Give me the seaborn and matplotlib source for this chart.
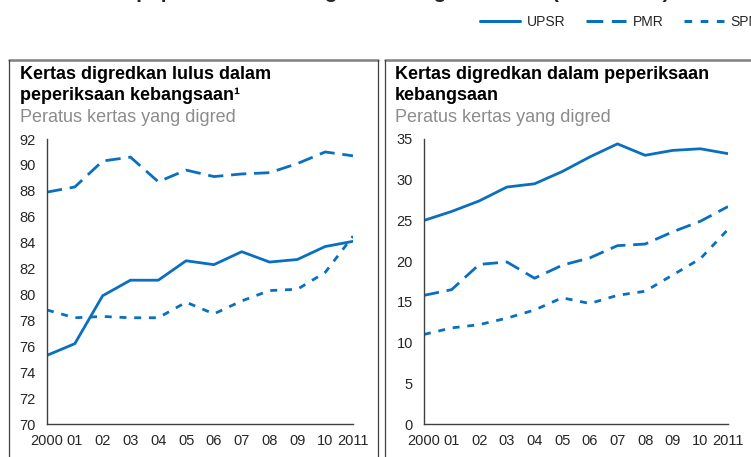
import pandas as pd
import matplotlib
matplotlib.use("Agg")
import matplotlib.pyplot as plt
from matplotlib.lines import Line2D
import seaborn as sns

# data
years = list(range(2000, 2012))
year_labels = ["2000", "01", "02", "03", "04", "05", "06", "07", "08", "09", "10", "2011"]
series_names = ["UPSR", "PMR", "SPM"]

lulus_upsr = [75.3, 76.2, 79.9, 81.1, 81.1, 82.6, 82.3, 83.3, 82.5, 82.7, 83.7, 84.1]
lulus_pmr = [87.9, 88.3, 90.3, 90.6, 88.7, 89.6, 89.1, 89.3, 89.4, 90.1, 91.0, 90.7]
lulus_spm = [78.8, 78.2, 78.3, 78.2, 78.2, 79.4, 78.5, 79.5, 80.3, 80.4, 81.7, 84.5]

gred_upsr = [25.0, 26.1, 27.4, 29.1, 29.5, 31.0, 32.8, 34.4, 33.0, 33.6, 33.8, 33.2]
gred_pmr = [15.8, 16.5, 19.6, 19.9, 17.9, 19.5, 20.4, 21.9, 22.1, 23.6, 24.9, 26.7]
gred_spm = [11.0, 11.8, 12.2, 13.0, 14.0, 15.5, 14.8, 15.8, 16.3, 18.3, 20.3, 23.9]

left_title = ["Kertas digredkan lulus dalam", "peperiksaan kebangsaan¹"]
right_title = ["Kertas digredkan dalam peperiksaan", "kebangsaan"]
subtitle = "Peratus kertas yang digred"
main_title = "Gred kertas peperiksaan kebangsaan mengikut tahun (2000–2011)"


def long_df(upsr, pmr, spm):
    frames = []
    for name, vals in zip(series_names, [upsr, pmr, spm]):
        frames.append(pd.DataFrame({"tahun": years, "nilai": vals, "siri": name}))
    return pd.concat(frames, ignore_index=True)


df_lulus = long_df(lulus_upsr, lulus_pmr, lulus_spm)
df_gred = long_df(gred_upsr, gred_pmr, gred_spm)

sns.set_style("white")
plt.rcParams["font.family"] = ["Liberation Sans", "DejaVu Sans"]

blue = "#0A6FBF"
pmr_dash = (5.5, 2.8)
spm_dash = (2.5, 2.8)
dash_map = {"UPSR": "", "PMR": pmr_dash, "SPM": spm_dash}
pal = {n: blue for n in series_names}

W, H = 751, 457
fig = plt.figure(figsize=(W / 100, H / 100), dpi=100)

ax1 = fig.add_axes([47 / W, 1 - 424 / H, (353 - 47) / W, (424 - 139) / H])
ax2 = fig.add_axes([424 / W, 1 - 424 / H, (728 - 424) / W, (424 - 139) / H])

sns.lineplot(data=df_lulus, x="tahun", y="nilai", hue="siri", style="siri",
             palette=pal, dashes=dash_map, linewidth=2, legend=False, ax=ax1)
sns.lineplot(data=df_gred, x="tahun", y="nilai", hue="siri", style="siri",
             palette=pal, dashes=dash_map, linewidth=2, legend=False, ax=ax2)

for ax, lim, step in [(ax1, (70, 92), 2), (ax2, (0, 35), 5)]:
    ax.set_xlim(2000, 2011)
    ax.set_ylim(*lim)
    ax.set_yticks(range(lim[0], lim[1] + 1, step))
    ax.set_xticks(years)
    ax.set_xticklabels(year_labels)
    ax.set_xlabel("")
    ax.set_ylabel("")
    for s in ["top", "right"]:
        ax.spines[s].set_visible(False)
    for s in ["left", "bottom"]:
        ax.spines[s].set_color("#404040")
        ax.spines[s].set_linewidth(1)
    ax.tick_params(axis="x", direction="in", length=4, width=1, color="#404040",
                   pad=7, labelsize=10.5)
    ax.tick_params(axis="y", direction="out", length=3, width=1, color="#404040",
                   pad=5, labelsize=10.5)
    ax.patch.set_alpha(0)

# panel boxes
for x0, x1 in [(9, 378), (385, 760)]:
    fig.add_artist(Line2D([x0 / W, x1 / W], [1 - 60 / H, 1 - 60 / H],
                          transform=fig.transFigure, color="#808080", lw=1.8))
    for xx in [x0, x1]:
        fig.add_artist(Line2D([xx / W, xx / W], [1 - 60 / H, -0.05],
                              transform=fig.transFigure, color="#404040", lw=0.9))

# panel titles
for x, lines in [(20, left_title), (395, right_title)]:
    fig.text(x / W, 1 - 79 / H, lines[0], fontsize=13, fontweight="bold",
             va="baseline", ha="left", color="black")
    fig.text(x / W, 1 - 100 / H, lines[1], fontsize=13, fontweight="bold",
             va="baseline", ha="left", color="black")
    fig.text(x / W, 1 - 122 / H, subtitle, fontsize=13, color="#8C8C8C",
             va="baseline", ha="left")

# headline, cut off at the top edge as in the reference
fig.text(14 / W, 1 + 1.5 / H, main_title, fontsize=15, fontweight="bold",
         va="baseline", ha="left")

# legend
handles = [Line2D([], [], color=blue, lw=2.2, linestyle=ls)
           for ls in ["-", (0, pmr_dash), (0, spm_dash)]]
fig.legend(handles, series_names, loc="center left", ncol=3,
           bbox_to_anchor=(480 / W, 1 - 22 / H), frameon=False, fontsize=10,
           handlelength=2.85, handletextpad=0.5, columnspacing=1.5,
           borderaxespad=0, borderpad=0)

fig.savefig("out.png", dpi=100)
